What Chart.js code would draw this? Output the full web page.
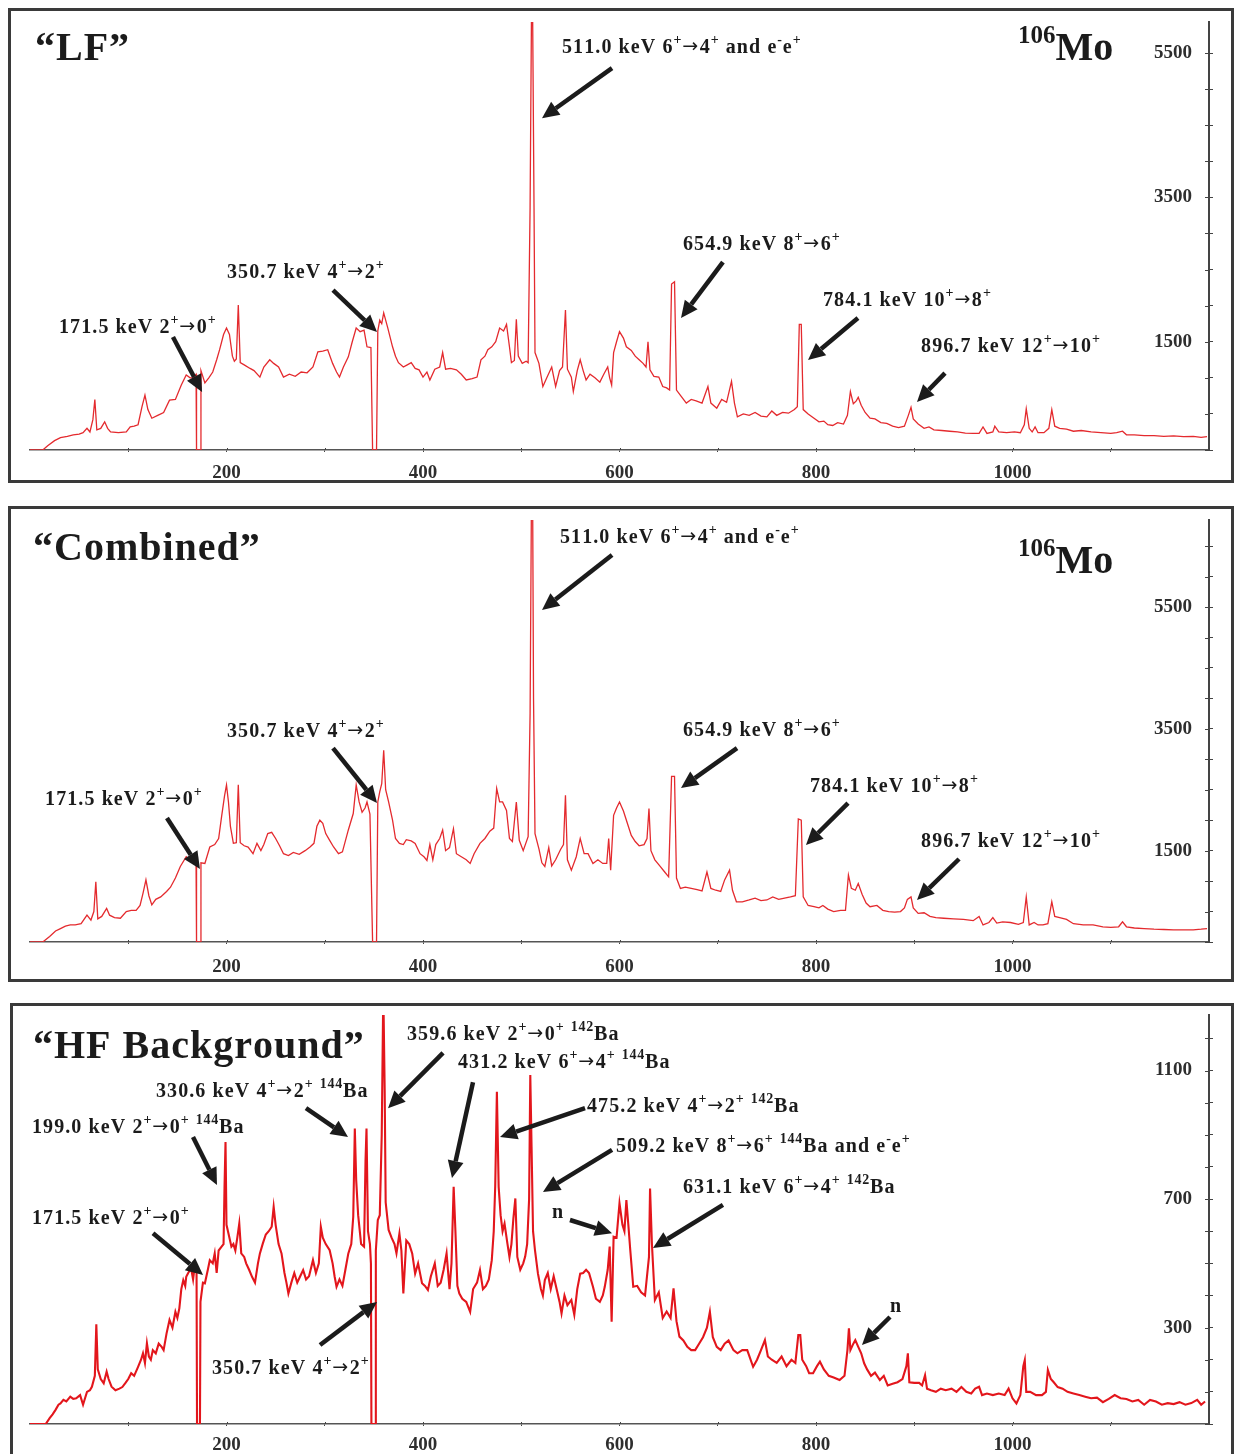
<!DOCTYPE html>
<html>
<head>
<meta charset="utf-8">
<title>106Mo gated spectra</title>
<script src="https://cdn.jsdelivr.net/npm/chart.js@4.4.1/dist/chart.umd.min.js"></script>
<style>
  html, body { margin: 0; padding: 0; background: #fff; }
  body { width: 1236px; height: 1454px; position: relative; overflow: hidden; }
  .frame { position: absolute; border: 3px solid #3a3a3a; box-sizing: border-box; }
  canvas { position: absolute; left: 0; }
</style>
</head>
<body>
<div class="frame" style="left:8px;top:8px;width:1226px;height:475px"></div>
<div class="frame" style="left:8px;top:506px;width:1226px;height:476px"></div>
<div class="frame" style="left:10px;top:1003px;width:1224px;height:470px"></div>
<canvas id="lf" width="1236" height="490" style="top:0px"></canvas>
<canvas id="combined" width="1236" height="490" style="top:500px"></canvas>
<canvas id="hf" width="1236" height="454" style="top:1000px"></canvas>
<script>
// ---- axis ticks ----------------------------------------------------------
const energyTicks = [100, 200, 300, 400, 500, 600, 700, 800, 900, 1000, 1100];
const energyLabels = [200, 400, 600, 800, 1000];
const lfCountTicks = [0, 500, 1000, 1500, 2000, 2500, 3000, 3500, 4000, 4500, 5000, 5500];
const lfCountLabels = [1500, 3500, 5500];
const combinedCountTicks = [0, 500, 1000, 1500, 2000, 2500, 3000, 3500, 4000, 4500, 5000, 5500, 6000, 6500];
const combinedCountLabels = [1500, 3500, 5500];
const hfCountTicks = [0, 100, 200, 300, 400, 500, 600, 700, 800, 900, 1000, 1100, 1200];
const hfCountLabels = [300, 700, 1100];

// ---- spectra: [energy keV, counts] ---------------------------------------
const lfSpectrum = [
  [0,0],[13,0],[18,60],[25,130],[31,170],[38,190],[44,210],[50,220],[54,240],[58,300],[61,250],[64,420],[66,700],[68,280],
  [72,300],[76,390],[79,300],[82,250],[90,240],[98,250],[102,320],[106,330],[110,350],[114,600],[117,760],[120,560],[124,440],
  [130,480],[136,520],[142,690],[148,700],[154,900],[159,1040],[163,1000],[166,1000],[169,1050],[169.5,0],[173.5,0],[174,1100],
  [178,930],[182,1000],[186,1080],[190,1250],[193,1390],[197,1600],[200,1690],[203,1600],[206,1300],[208,1230],[210,1260],[212,2010],
  [214,1210],[218,1180],[224,1130],[228,1100],[234,1010],[238,1150],[244,1250],[248,1200],[253,1150],[258,1010],[264,1050],[270,1020],
  [276,1080],[282,1070],[288,1150],[293,1360],[298,1370],[303,1390],[308,1200],[312,1080],[315,1010],[319,1150],[324,1290],[328,1500],
  [332,1690],[336,1640],[340,1660],[343,1430],[347,1420],[348.7,0],[352.7,0],[354,1650],[356,1800],[358,1750],[360,1900],[364,1700],
  [369,1430],[372,1300],[375,1210],[380,1150],[384,1180],[388,1210],[392,1130],[396,1110],[400,1010],[404,1080],[407,970],[412,1120],
  [417,1150],[420,1350],[423,1120],[428,1130],[434,1110],[439,1050],[444,970],[450,990],[455,1010],[459,1250],[463,1300],[466,1390],
  [470,1430],[474,1500],[478,1690],[482,1650],[485,1740],[488,1430],[490,1210],[493,1240],[495,1810],[497,1300],[501,1200],[505,1230],
  [507,1210],[509,3360],[510.5,6200],[511.5,6200],[513,3360],[514,1350],[518,1200],[522,880],[526,1000],[531,1150],[535,880],[539,1100],
  [542,1150],[545,1940],[547,1120],[551,1010],[553,810],[557,1100],[560,1250],[563,1100],[566,970],[570,1050],[575,1000],[580,940],
  [584,1050],[588,1150],[590,1000],[592,900],[594,1350],[597,1500],[600,1640],[604,1550],[607,1430],[612,1380],[616,1300],[620,1250],
  [624,1200],[627,1150],[629,1500],[631,1110],[635,1020],[640,1010],[644,880],[648,860],[651,830],[653,2300],[656,2330],[658,830],
  [663,740],[668,650],[673,700],[678,680],[684,650],[690,880],[693,650],[699,580],[704,700],[709,660],[714,950],[717,650],[720,460],
  [726,500],[732,480],[738,520],[744,470],[750,460],[755,540],[760,480],[766,520],[772,510],[778,560],[781,600],[783,1740],[785,1740],
  [787,560],[792,500],[798,440],[803,390],[808,400],[812,350],[817,340],[822,380],[828,360],[832,480],[835,810],[838,640],[841,680],
  [843,730],[846,620],[850,520],[855,440],[860,430],[866,380],[872,370],[878,330],[884,310],[890,330],[894,480],[896.7,590],[899,430],
  [904,360],[910,300],[915,320],[920,280],[928,270],[936,260],[944,250],[952,235],[960,230],[966,230],[970,320],[974,230],[980,250],
  [982,330],[986,250],[994,240],[1002,250],[1008,240],[1012,350],[1014,570],[1017,300],[1020,250],[1023,320],[1026,240],[1032,240],
  [1037,300],[1040,560],[1043,330],[1048,300],[1055,290],[1062,260],[1070,270],[1080,250],[1090,240],[1100,230],[1106,240],[1112,260],
  [1116,210],[1124,210],[1134,200],[1144,200],[1154,190],[1164,195],[1174,185],[1184,190],[1192,175],[1198,185]
];

const combinedSpectrum = [
  [0,0],[13,0],[20,90],[26,180],[31,220],[36,260],[41,280],[46,280],[52,300],[58,440],[62,360],[65,500],[67,990],[69,380],[73,420],
  [78,550],[81,440],[86,400],[92,390],[98,500],[103,520],[108,520],[112,600],[115,800],[118,1020],[121,760],[124,610],[128,700],
  [133,740],[139,830],[143,900],[148,1050],[153,1240],[159,1400],[163,1350],[166,1300],[169,1300],[169.5,0],[173.5,0],[174,1300],
  [178,1290],[183,1560],[188,1600],[192,1700],[195,2060],[198,2400],[200,2580],[202,2300],[204,1900],[207,1620],[210,1630],[212,2580],
  [214,1630],[218,1580],[222,1560],[227,1450],[231,1620],[235,1500],[238,1600],[242,1780],[246,1800],[250,1700],[254,1580],[258,1450],
  [263,1420],[268,1470],[274,1440],[280,1500],[285,1560],[289,1620],[292,1900],[295,2000],[298,1950],[301,1780],[305,1670],[309,1560],
  [314,1450],[318,1480],[324,1840],[329,2110],[332,2580],[335,2300],[338,2130],[341,2200],[343,2300],[346,2100],[348.7,0],[352.7,0],
  [354,2300],[356,2470],[358,2600],[360,3150],[362,2500],[365,2300],[369,2000],[372,1700],[376,1620],[380,1600],[383,1680],[388,1660],
  [392,1620],[397,1450],[401,1400],[404,1340],[407,1600],[410,1350],[413,1600],[417,1700],[420,1840],[423,1500],[427,1550],[431,1860],
  [434,1450],[439,1400],[444,1350],[448,1290],[452,1450],[458,1620],[463,1700],[468,1820],[472,1870],[475,2520],[478,2300],[481,2300],
  [485,2160],[488,1700],[491,1650],[495,2300],[498,1670],[502,1500],[507,1730],[509,3750],[510.5,7600],[511.5,7600],[512.5,4000],
  [514,1780],[518,1530],[521,1300],[524,1240],[528,1550],[531,1250],[535,1350],[540,1520],[543,1600],[545,2410],[547,1350],[551,1180],
  [556,1400],[560,1700],[564,1450],[568,1450],[573,1290],[578,1350],[583,1290],[587,1290],[589,1700],[591,1180],[594,2080],[597,2200],
  [600,2300],[604,2150],[608,1950],[612,1750],[616,1650],[620,1580],[625,1600],[628,1700],[630,2190],[632,1500],[636,1350],[641,1250],
  [646,1150],[650,1070],[653,2720],[656,2720],[658,1050],[662,880],[667,900],[673,880],[679,860],[684,840],[689,1150],[693,880],
  [698,850],[703,830],[707,1020],[712,1180],[715,850],[719,660],[725,660],[732,690],[738,720],[744,680],[750,690],[756,740],[762,700],
  [768,720],[774,740],[779,760],[782,2020],[785,2000],[787,740],[792,600],[798,580],[803,560],[807,600],[812,540],[818,500],[825,520],
  [830,520],[833,1100],[836,880],[840,850],[843,960],[847,780],[851,640],[855,580],[862,600],[868,520],[874,500],[880,490],[886,500],
  [890,560],[893,700],[896.7,740],[899,560],[904,470],[910,480],[916,420],[922,400],[930,390],[940,380],[950,370],[960,350],[966,420],
  [970,280],[976,320],[980,400],[984,310],[990,330],[998,320],[1006,290],[1011,320],[1014,740],[1017,280],[1022,320],[1026,280],
  [1031,280],[1036,300],[1040,660],[1043,420],[1048,400],[1055,370],[1062,300],[1072,280],[1082,280],[1092,250],[1100,240],[1108,250],
  [1112,330],[1116,250],[1124,230],[1134,220],[1144,210],[1154,205],[1164,200],[1174,200],[1184,200],[1192,210],[1198,220]
];

const hfSpectrum = [
  [0,0],[16,0],[20,18],[23,30],[26,44],[29,60],[31,64],[34,75],[37,70],[41,85],[44,78],[47,80],[51,90],[54,60],[56,80],[58,100],
  [61,105],[63,116],[66,150],[67.5,310],[69,170],[72,140],[75,127],[78,163],[80,140],[83,116],[87,105],[91,110],[94,115],[97,127],
  [100,140],[103,158],[106,150],[110,178],[113,200],[115,220],[117,190],[119,251],[121,210],[123,200],[125,230],[128,220],[131,250],
  [134,240],[136,230],[139,282],[142,324],[145,300],[148,349],[150,330],[152,360],[154,420],[156,448],[158,430],[159,458],[161,470],
  [164,484],[166,450],[168,500],[169.5,490],[170,0],[173,0],[173.5,380],[176,440],[178,438],[181,480],[183,510],[186,500],[188,531],
  [190,470],[192,540],[195,552],[197,560],[198,740],[199,878],[200,620],[202,593],[205,552],[207,560],[209,540],[211,580],[213,624],
  [215,531],[218,520],[220,500],[223,480],[226,458],[229,440],[232,500],[234,531],[237,562],[240,590],[243,600],[246,614],[248,676],
  [250,620],[253,560],[256,531],[259,470],[261,440],[263,406],[266,440],[269,470],[272,440],[275,460],[278,479],[281,450],[284,460],
  [288,510],[291,470],[294,500],[296,614],[298,580],[301,560],[305,541],[308,500],[310,460],[312,427],[315,450],[318,430],[321,480],
  [324,531],[327,560],[329,645],[330.6,920],[332,759],[334,650],[337,560],[340,552],[341.5,820],[342.5,920],[344,600],[346,560],
  [347,500],[347.5,0],[351.5,0],[352,540],[354,635],[356,650],[358,900],[359.6,1350],[361,1039],[362,690],[365,604],[368,580],
  [371,560],[373,531],[376,593],[378,540],[380,406],[383,571],[386,560],[389,531],[392,468],[395,500],[399,438],[402,430],[405,417],
  [408,460],[412,500],[415,430],[418,440],[421,480],[424,531],[427,420],[429,500],[431.2,738],[433,600],[435,430],[437,406],[440,390],
  [444,380],[448,349],[451,420],[455,440],[458,479],[461,420],[464,430],[467,450],[470,510],[472,600],[473.5,740],[475.2,1034],
  [477,738],[479,650],[481,600],[483,624],[486,560],[488,520],[490,560],[492,640],[494,702],[496,520],[499,480],[502,500],[504,521],
  [506,560],[508,700],[509.2,1086],[510.5,863],[512,600],[514,540],[517,468],[520,420],[522,400],[524,448],[527,470],[530,420],
  [533,460],[536,420],[539,380],[541,344],[544,400],[547,370],[551,386],[554,340],[557,420],[560,468],[563,470],[566,480],[569,470],
  [573,427],[576,390],[580,380],[583,400],[585,427],[588,480],[590,552],[592,318],[594,583],[597,580],[600,687],[603,620],[605,600],
  [607,697],[609,620],[611,540],[614,427],[618,430],[622,410],[626,400],[628,460],[630,520],[631.1,733],[633,560],[636,386],[640,410],
  [644,330],[648,350],[652,330],[655,422],[658,320],[661,272],[665,260],[669,240],[673,230],[677,230],[681,250],[685,270],[689,300],
  [692,349],[695,270],[699,240],[703,230],[707,250],[711,260],[716,230],[720,220],[725,230],[730,230],[736,178],[740,200],[744,230],
  [748,261],[751,210],[755,200],[760,190],[765,210],[770,180],[775,200],[779,190],[782,277],[784,277],[786,200],[790,180],[793,158],
  [797,158],[801,180],[804,194],[808,170],[813,150],[818,145],[824,137],[829,150],[832,230],[833.5,298],[835,230],[838,250],[840,261],
  [843,240],[846,220],[849,189],[852,170],[856,150],[860,160],[865,137],[869,150],[873,120],[878,125],[883,130],[888,140],[892,180],
  [893.5,220],[895,130],[900,128],[905,128],[908,120],[911,152],[913,110],[917,105],[922,100],[927,110],[932,105],[938,110],[943,100],
  [948,115],[953,100],[958,95],[962,110],[966,116],[969,90],[974,95],[980,90],[986,95],[992,90],[996,110],[1000,80],[1004,64],
  [1008,90],[1011,180],[1012.5,199],[1014,100],[1018,100],[1024,90],[1030,90],[1034,100],[1036,168],[1039,140],[1042,130],[1046,115],
  [1051,110],[1056,100],[1062,95],[1068,90],[1074,85],[1080,80],[1086,82],[1092,68],[1098,78],[1104,90],[1110,80],[1116,78],[1122,70],
  [1128,75],[1134,60],[1140,75],[1146,70],[1152,60],[1158,65],[1164,62],[1170,68],[1176,60],[1182,65],[1188,75],[1192,60],[1196,70]
];

// ---- peak labels: text anchor and arrow, both in (keV, counts) ------------
const lfNotes = [
  { text: '511.0 keV 6^{+}→4^{+} and e^{-}e^{+}', at: [541.5, 5498], from: [592.4, 5291], to: [521.1, 4598] },
  { text: '654.9 keV 8^{+}→6^{+}', at: [664.6, 2770], from: [705.3, 2604], to: [662.6, 1828] },
  { text: '784.1 keV 10^{+}→8^{+}', at: [807.1, 1994], from: [842.7, 1828], to: [791.9, 1247] },
  { text: '896.7 keV 12^{+}→10^{+}', at: [906.9, 1357], from: [931.3, 1066], to: [902.8, 665] },
  { text: '350.7 keV 4^{+}→2^{+}', at: [200.5, 2382], from: [308.4, 2216], to: [353.2, 1634] },
  { text: '171.5 keV 2^{+}→0^{+}', at: [29.5, 1620], from: [145.5, 1565], to: [175.1, 803] }
];
const combinedNotes = [
  { text: '511.0 keV 6^{+}→4^{+} and e^{-}e^{+}', at: [539.4, 6552], from: [592.4, 6355], to: [521.1, 5451] },
  { text: '654.9 keV 8^{+}→6^{+}', at: [664.6, 3383], from: [719.6, 3185], to: [662.6, 2529] },
  { text: '784.1 keV 10^{+}→8^{+}', at: [793.9, 2463], from: [832.6, 2282], to: [789.8, 1593] },
  { text: '896.7 keV 12^{+}→10^{+}', at: [906.9, 1560], from: [945.6, 1363], to: [902.8, 690] },
  { text: '350.7 keV 4^{+}→2^{+}', at: [200.5, 3366], from: [308.4, 3185], to: [353.2, 2282] },
  { text: '171.5 keV 2^{+}→0^{+}', at: [15.3, 2250], from: [139.4, 2036], to: [173.0, 1199] }
];
const hfNotes = [
  { text: '359.6 keV 2^{+}→0^{+} ^{142}Ba', at: [383.7, 1195], from: [420.4, 1155], to: [364.4, 983] },
  { text: '431.2 keV 6^{+}→4^{+} ^{144}Ba', at: [435.6, 1108], from: [450.9, 1064], to: [429.5, 766] },
  { text: '475.2 keV 4^{+}→2^{+} ^{142}Ba', at: [566.9, 971], from: [564.9, 983], to: [478.4, 893] },
  { text: '509.2 keV 8^{+}→6^{+} ^{144}Ba and e^{-}e^{+}', at: [596.4, 846], from: [592.4, 853], to: [522.1, 722] },
  { text: '631.1 keV 6^{+}→4^{+} ^{142}Ba', at: [664.6, 719], from: [705.3, 682], to: [634.1, 548] },
  { text: 'n', at: [531.3, 641], from: [549.6, 635], to: [592.4, 594] },
  { text: 'n', at: [875.3, 349], from: [875.3, 333], to: [846.8, 246] },
  { text: '330.6 keV 4^{+}→2^{+} ^{144}Ba', at: [128.2, 1018], from: [280.9, 983], to: [323.7, 893] },
  { text: '199.0 keV 2^{+}→0^{+} ^{144}Ba', at: [2.0, 906], from: [165.9, 893], to: [190.3, 744] },
  { text: '171.5 keV 2^{+}→0^{+}', at: [2.0, 622], from: [125.2, 594], to: [176.1, 464] },
  { text: '350.7 keV 4^{+}→2^{+}', at: [185.2, 156], from: [295.2, 246], to: [353.2, 380] }
];

// ---- drawing helpers -----------------------------------------------------
const SERIF = '"Liberation Serif", "DejaVu Serif", serif';
const ARROW_FONT = '"DejaVu Sans", sans-serif';
const INK = '#1b1b1b';

// draws text one glyph at a time with extra tracking; returns the end x
function drawTracked(ctx, text, x, y, tracking) {
  let cx = x;
  for (const ch of text) {
    ctx.fillText(ch, cx, y);
    cx += ctx.measureText(ch).width + tracking;
  }
  return cx;
}

// text with ^{...} superscripts; the transition arrow uses a wider glyph
function drawRich(ctx, str, x, y, size) {
  const parts = str.split(/(\^\{[^}]*\}|→)/).filter(Boolean);
  let cx = x;
  for (const p of parts) {
    if (p === '→') {
      ctx.font = `${Math.round(size * 0.95)}px ${ARROW_FONT}`;
      cx = drawTracked(ctx, p, cx, y - 1, 1.5);
      continue;
    }
    const sup = p.startsWith('^{');
    const t = sup ? p.slice(2, -1) : p;
    const fs = sup ? Math.round(size * 0.68) : size;
    ctx.font = `bold ${fs}px ${SERIF}`;
    cx = drawTracked(ctx, t, cx, sup ? y - size * 0.45 : y, sup ? 0.8 : 1.1);
  }
}

function drawArrow(ctx, x1, y1, x2, y2) {
  const ang = Math.atan2(y2 - y1, x2 - x1);
  const len = 17, half = 8;
  const bx = x2 - len * Math.cos(ang), by = y2 - len * Math.sin(ang);
  ctx.lineWidth = 4.5;
  ctx.lineCap = 'butt';
  ctx.beginPath(); ctx.moveTo(x1, y1); ctx.lineTo(bx, by); ctx.stroke();
  ctx.beginPath();
  ctx.moveTo(x2, y2);
  ctx.lineTo(bx + half * Math.sin(ang), by - half * Math.cos(ang));
  ctx.lineTo(bx - half * Math.sin(ang), by + half * Math.cos(ang));
  ctx.closePath(); ctx.fill();
}

const labelsPlugin = {
  id: 'peakLabels',
  afterDraw(chart, args, opts) {
    const ctx = chart.ctx, xs = chart.scales.x, ys = chart.scales.y;
    const px = e => xs.getPixelForValue(e), py = c => ys.getPixelForValue(c);
    ctx.save();
    // inner halves of the axis tick marks
    ctx.strokeStyle = '#444'; ctx.lineWidth = 1;
    ys.ticks.forEach(t => {
      const y = Math.round(py(t.value)) + 0.5;
      ctx.beginPath(); ctx.moveTo(ys.left - 4, y); ctx.lineTo(ys.left, y); ctx.stroke();
    });
    xs.ticks.forEach(t => {
      const x = Math.round(px(t.value)) + 0.5;
      ctx.beginPath(); ctx.moveTo(x, xs.top - 2); ctx.lineTo(x, xs.top); ctx.stroke();
    });
    ctx.fillStyle = INK; ctx.strokeStyle = INK;
    ctx.textBaseline = 'alphabetic'; ctx.textAlign = 'left';
    // panel title and isotope
    ctx.font = `bold ${opts.titleSize}px ${SERIF}`;
    drawTracked(ctx, opts.title, opts.titleX, opts.titleY, 1);
    if (opts.isotopeX) {
      ctx.font = `bold 25px ${SERIF}`;
      ctx.fillText('106', opts.isotopeX, opts.isotopeY - 17);
      const w = ctx.measureText('106').width;
      ctx.font = `bold 40px ${SERIF}`;
      ctx.fillText('Mo', opts.isotopeX + w, opts.isotopeY);
    }
    // peak labels with arrows
    opts.notes.forEach(n => {
      drawRich(ctx, n.text, px(n.at[0]), py(n.at[1]), opts.noteSize);
      drawArrow(ctx, px(n.from[0]), py(n.from[1]), px(n.to[0]), py(n.to[1]));
    });
    ctx.restore();
  }
};

function makePanel(id, cfg) {
  const canvas = document.getElementById(id);
  return new Chart(canvas, {
    type: 'line',
    data: {
      datasets: [{
        data: cfg.spectrum.map(([e, c]) => ({ x: e, y: c })),
        borderColor: cfg.color,
        borderWidth: cfg.lineWidth,
        pointRadius: 0,
        tension: 0,
        fill: false
      }]
    },
    options: {
      responsive: false,
      animation: false,
      devicePixelRatio: 1,
      layout: { padding: { left: 30, right: 27, top: cfg.top, bottom: 0 } },
      plugins: {
        legend: { display: false },
        tooltip: { enabled: false },
        peakLabels: {
          notes: cfg.notes, title: cfg.title, titleX: cfg.titleX, titleY: cfg.titleY, titleSize: 40,
          isotopeX: cfg.isotopeX, isotopeY: cfg.isotopeY, noteSize: 20
        }
      },
      scales: {
        x: {
          type: 'linear', min: 0, max: 1200,
          afterBuildTicks: s => { s.ticks = energyTicks.map(v => ({ value: v })); },
          afterFit: s => { s.height = cfg.xAxisHeight; s.paddingLeft = 0; s.paddingRight = 0; },
          ticks: {
            autoSkip: false, maxRotation: 0, padding: cfg.labelPad, color: '#2e2e2e',
            font: { family: SERIF, weight: 'bold', size: 19 },
            callback: v => energyLabels.includes(v) ? String(v) : ''
          },
          grid: { drawOnChartArea: false, drawTicks: true, tickLength: 2, color: '#444' },
          border: { color: '#555', width: 1.5 }
        },
        y: {
          type: 'linear', position: 'right', min: 0, max: cfg.yMax,
          afterBuildTicks: s => { s.ticks = cfg.yTicks.map(v => ({ value: v })); },
          afterFit: s => { s.width = 0; s.paddingTop = 0; s.paddingBottom = 0; },
          ticks: {
            mirror: true, padding: -17, color: '#2e2e2e',
            font: { family: SERIF, weight: 'bold', size: 19 },
            callback: v => cfg.yLabels.includes(v) ? String(v) : ''
          },
          grid: { drawOnChartArea: false, drawTicks: true, tickLength: 4, color: '#444' },
          border: { color: '#444', width: 2 }
        }
      }
    },
    plugins: [labelsPlugin]
  });
}

makePanel('lf', {
  spectrum: lfSpectrum, notes: lfNotes, color: '#e42a2e', lineWidth: 1.3,
  top: 22, xAxisHeight: 40, labelPad: 10, yMax: 5930, yTicks: lfCountTicks, yLabels: lfCountLabels,
  title: '\u201CLF\u201D', titleX: 35, titleY: 60, isotopeX: 1018, isotopeY: 60
});
makePanel('combined', {
  spectrum: combinedSpectrum, notes: combinedNotes, color: '#e42a2e', lineWidth: 1.3,
  top: 20, xAxisHeight: 48, labelPad: 12, yMax: 6930, yTicks: combinedCountTicks, yLabels: combinedCountLabels,
  title: '\u201CCombined\u201D', titleX: 33, titleY: 60, isotopeX: 1018, isotopeY: 73
});
makePanel('hf', {
  spectrum: hfSpectrum, notes: hfNotes, color: '#e3161c', lineWidth: 2.1,
  top: 15, xAxisHeight: 30, labelPad: 8, yMax: 1273, yTicks: hfCountTicks, yLabels: hfCountLabels,
  title: '\u201CHF Background\u201D', titleX: 33, titleY: 58
});
</script>
</body>
</html>
